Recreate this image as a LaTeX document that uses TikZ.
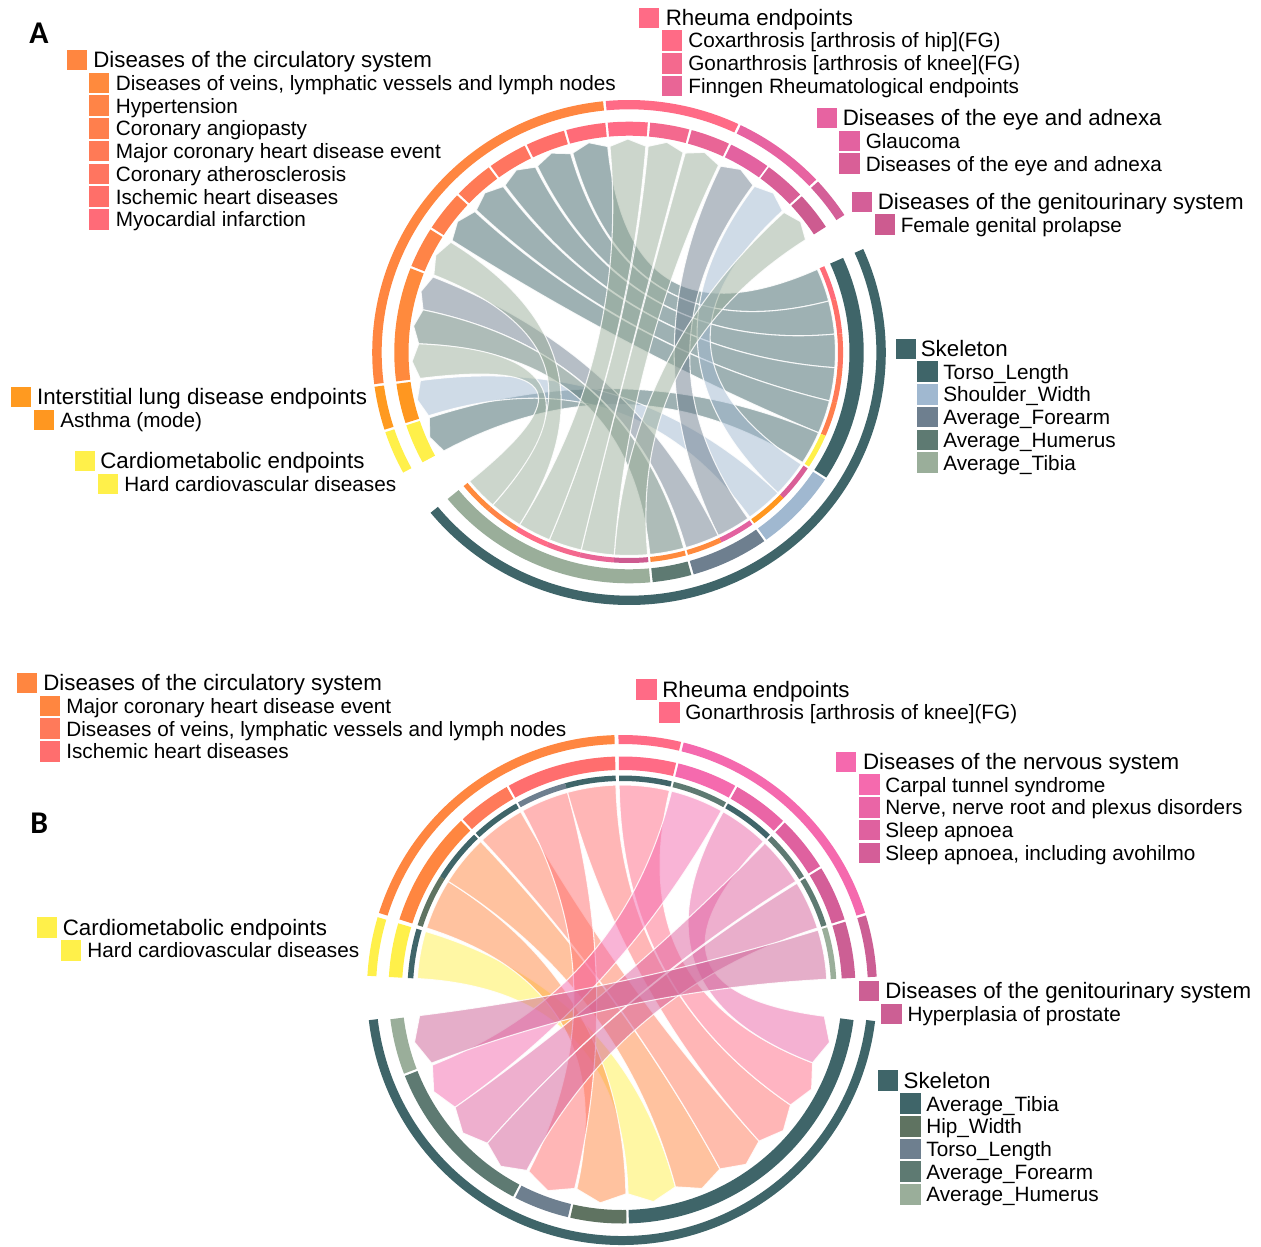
\documentclass[tikz,border=0pt]{standalone}
\usepackage{fontspec}
\setmainfont{Liberation Sans}
\newfontfamily\labfont{Carlito}
\usetikzlibrary{calc}
% ---- colours A
\definecolor{cCirc}{HTML}{FF8640}
\definecolor{cVein}{HTML}{FF8A3D}
\definecolor{cHyp}{HTML}{FF8447}
\definecolor{cAng}{HTML}{FF7F4D}
\definecolor{cMaj}{HTML}{FF7A56}
\definecolor{cAth}{HTML}{FF7560}
\definecolor{cIsc}{HTML}{FF6F69}
\definecolor{cMyo}{HTML}{FF6B78}
\definecolor{cRheu}{HTML}{FF6B86}
\definecolor{cCox}{HTML}{FF6B86}
\definecolor{cGon}{HTML}{F4698E}
\definecolor{cFin}{HTML}{E96596}
\definecolor{cEye}{HTML}{E763A1}
\definecolor{cGla}{HTML}{E362A0}
\definecolor{cEyeS}{HTML}{D95F97}
\definecolor{cGen}{HTML}{D45F98}
\definecolor{cPro}{HTML}{CD5B90}
\definecolor{cIld}{HTML}{FF9A20}
\definecolor{cAst}{HTML}{FF9720}
\definecolor{cCard}{HTML}{FFF04A}
\definecolor{cSkel}{HTML}{3F6569}
\definecolor{cTor}{HTML}{3F6569}
\definecolor{cSho}{HTML}{A0B8D0}
\definecolor{cFor}{HTML}{6E7F8F}
\definecolor{cHum}{HTML}{5E7A72}
\definecolor{cTib}{HTML}{9AAE9A}
% ---- colours B
\definecolor{bMaj}{HTML}{FF8640}
\definecolor{bVein}{HTML}{FF7A5A}
\definecolor{bIsc}{HTML}{FF6E6E}
\definecolor{bGon}{HTML}{FF6B86}
\definecolor{bNerv}{HTML}{F569AE}
\definecolor{bCarp}{HTML}{F56AAE}
\definecolor{bNrv}{HTML}{EA65A6}
\definecolor{bSlA}{HTML}{DF619F}
\definecolor{bSlB}{HTML}{D45E98}
\definecolor{bGen}{HTML}{CC5F94}
\definecolor{bPros}{HTML}{CC5F94}
\definecolor{bTib}{HTML}{3F6569}
\definecolor{bHip}{HTML}{5F7361}
\definecolor{bTor}{HTML}{6E7F8F}
\definecolor{bFor}{HTML}{5E7A72}
\definecolor{bHum}{HTML}{9AAE9A}

\tikzset{
  hd/.style={anchor=base west, inner sep=0pt, font=\fontsize{12.7}{14}\selectfont},
  sb/.style={anchor=base west, inner sep=0pt, font=\fontsize{11.8}{13}\selectfont},
  lbl/.style={anchor=base west, inner sep=0pt, font=\labfont\fontsize{18}{20}\selectfont\bfseries},
  chordfill/.style={fill opacity=0.5, draw=white, draw opacity=0.85, line width=0.6pt, line join=round},
}
\newcommand\ringseg[5]{\fill[#1] (#2:#4) arc[start angle=#2, end angle=#3, radius=#4] -- (#3:#5) arc[start angle=#3, end angle=#2, radius=#5] -- cycle;}
\newcommand\rib[5]{%
  \pgfmathsetmacro\tmid{(#4+#5)/2}%
  \path[chordfill, fill=#1] (#2:\Rs) arc[start angle=#2, end angle=#3, radius=\Rs]
    .. controls (#3:{\Rs/3}) and (#4:{\Rt/3}) .. (#4:\Rt) -- (\tmid:\Rtip) -- (#5:\Rt)
    .. controls (#5:{\Rt/3}) and (#2:{\Rs/3}) .. (#2:\Rs) -- cycle;}
\newcommand\lsq[3]{\filldraw[fill=#1, draw=white, line width=0.3pt] (#2,#3) rectangle ++(21.6,21.6);}

\begin{document}
\begin{tikzpicture}[x=0.02cm,y=-0.02cm]
\fill[white] (0,0) rectangle (1261,1247);
\useasboundingbox (0,0) rectangle (1261,1247);

% ================= Diagram A =================
\begin{scope}[shift={(629,352.5)}, xscale=1.017]
\def\Rs{203}\def\Rt{207}\def\Rtip{213.5}
\rib{cTor}{335.8}{345.3}{254.5}{264.2}
\rib{cTor}{345.3}{354.8}{244.2}{253.9}
\rib{cTor}{354.8}{364.3}{233.9}{243.6}
\rib{cTor}{364.3}{373.8}{223.5}{233.3}
\rib{cTor}{373.8}{383.3}{212.8}{222.9}
\rib{cTor}{383.3}{392.8}{151.6}{161.6}
\rib{cSho}{393.4}{403.8}{306.6}{316.8}
\rib{cSho}{403.8}{414.2}{162.2}{172.2}
\rib{cFor}{414.8}{424.4}{295.8}{306.1}
\rib{cFor}{424.4}{434}{191.9}{201.4}
\rib{cHum}{434.6}{444.2}{182.4}{191.9}
\rib{cTib}{444.8}{454.1}{317.4}{327}
\rib{cTib}{454.1}{463.4}{285.5}{295.2}
\rib{cTib}{463.4}{472.7}{275.2}{284.9}
\rib{cTib}{472.7}{482}{264.8}{274.6}
\rib{cTib}{482}{491.3}{202}{212.2}
\rib{cTib}{491.3}{500.6}{172.8}{182.4}
% outer ring
\ringseg{cCard}{151.6}{161.6}{243.2}{252.5}
\ringseg{cIld}{162.2}{172.2}{243.2}{252.5}
\ringseg{cCirc}{172.8}{264.2}{243.2}{252.5}
\ringseg{cRheu}{264.8}{295.2}{243.2}{252.5}
\ringseg{cEye}{295.8}{316.8}{243.2}{252.5}
\ringseg{cGen}{317.4}{327}{243.2}{252.5}
\ringseg{cSkel}{335.8}{500.6}{243.2}{252.5}
% inner ring
\ringseg{cCard}{151.6}{161.6}{216.8}{230.8}
\ringseg{cAst}{162.2}{172.2}{216.8}{230.8}
\ringseg{cVein}{172.8}{201.4}{216.8}{230.8}
\ringseg{cHyp}{202}{212.2}{216.8}{230.8}
\ringseg{cAng}{212.8}{222.9}{216.8}{230.8}
\ringseg{cMaj}{223.5}{233.3}{216.8}{230.8}
\ringseg{cAth}{233.9}{243.6}{216.8}{230.8}
\ringseg{cIsc}{244.2}{253.9}{216.8}{230.8}
\ringseg{cMyo}{254.5}{264.2}{216.8}{230.8}
\ringseg{cCox}{264.8}{274.6}{216.8}{230.8}
\ringseg{cGon}{275.2}{284.9}{216.8}{230.8}
\ringseg{cFin}{285.5}{295.2}{216.8}{230.8}
\ringseg{cGla}{295.8}{306.1}{216.8}{230.8}
\ringseg{cEyeS}{306.6}{316.8}{216.8}{230.8}
\ringseg{cPro}{317.4}{327}{216.8}{230.8}
\ringseg{cTor}{335.8}{392.8}{216.8}{230.8}
\ringseg{cSho}{393.4}{414.2}{216.8}{230.8}
\ringseg{cFor}{414.8}{434}{216.8}{230.8}
\ringseg{cHum}{434.6}{444.2}{216.8}{230.8}
\ringseg{cTib}{444.8}{500.6}{216.8}{230.8}
% thin ring (skeleton side)
\ringseg{cMyo}{335.8}{345.3}{205.5}{210.5}
\ringseg{cIsc}{345.3}{354.8}{205.5}{210.5}
\ringseg{cAth}{354.8}{364.3}{205.5}{210.5}
\ringseg{cMaj}{364.3}{373.8}{205.5}{210.5}
\ringseg{cAng}{373.8}{383.3}{205.5}{210.5}
\ringseg{cCard}{383.3}{392.8}{205.5}{210.5}
\ringseg{cEyeS}{393.4}{403.8}{205.5}{210.5}
\ringseg{cAst}{403.8}{414.2}{205.5}{210.5}
\ringseg{cGla}{414.8}{424.4}{205.5}{210.5}
\ringseg{cVein}{424.4}{434}{205.5}{210.5}
\ringseg{cVein}{434.6}{444.2}{205.5}{210.5}
\ringseg{cPro}{444.8}{454.1}{205.5}{210.5}
\ringseg{cFin}{454.1}{463.4}{205.5}{210.5}
\ringseg{cGon}{463.4}{472.7}{205.5}{210.5}
\ringseg{cCox}{472.7}{482}{205.5}{210.5}
\ringseg{cHyp}{482}{491.3}{205.5}{210.5}
\ringseg{cVein}{491.3}{500.6}{205.5}{210.5}
\end{scope}

% ================= Diagram B =================
\begin{scope}[shift={(622,990)}]
\def\Rs{205}\def\Rt{204}\def\Rtip{214}
\rib{cCard}{183.2}{196.6}{74.8}{88.3}
\rib{bMaj}{197.6}{212}{88.9}{102.8}
\rib{bMaj}{212}{226.4}{61.3}{74.8}
\rib{bVein}{227}{240.4}{47.8}{61.3}
\rib{bIsc}{241}{254.6}{103.4}{117.2}
\rib{bIsc}{254.6}{268.3}{34.3}{47.8}
\rib{bGon}{269.2}{283.4}{20.9}{34.3}
\rib{bCarp}{284}{299}{144.9}{158.4}
\rib{bNrv}{299.6}{313.6}{7.4}{20.9}
\rib{bSlA}{314.2}{328}{131.3}{144.9}
\rib{bSlB}{328.6}{342.4}{117.8}{131.3}
\rib{bPros}{343}{357}{159}{172.8}
% outer ring
\ringseg{cCard}{183.2}{196.6}{246}{255}
\ringseg{cCirc}{197.6}{268.3}{246}{255}
\ringseg{cRheu}{269.2}{283.4}{246}{255}
\ringseg{bNerv}{284}{342.4}{246}{255}
\ringseg{bGen}{343}{357}{246}{255}
\ringseg{cSkel}{7}{173.2}{246}{255}
% inner ring
\ringseg{cCard}{183.2}{196.6}{220}{233.5}
\ringseg{bMaj}{197.6}{226.4}{220}{233.5}
\ringseg{bVein}{227}{240.4}{220}{233.5}
\ringseg{bIsc}{241}{268.3}{220}{233.5}
\ringseg{bGon}{269.2}{283.4}{220}{233.5}
\ringseg{bCarp}{284}{299}{220}{233.5}
\ringseg{bNrv}{299.6}{313.6}{220}{233.5}
\ringseg{bSlA}{314.2}{328}{220}{233.5}
\ringseg{bSlB}{328.6}{342.4}{220}{233.5}
\ringseg{bPros}{343}{357}{220}{233.5}
\ringseg{bTib}{7.4}{88.3}{220}{233.5}
\ringseg{bHip}{88.9}{102.8}{220}{233.5}
\ringseg{bTor}{103.4}{117.2}{220}{233.5}
\ringseg{bFor}{117.8}{158.4}{220}{233.5}
\ringseg{bHum}{159}{172.8}{220}{233.5}
% thin ring (disease side)
\ringseg{bTib}{183.2}{196.6}{209}{214.5}
\ringseg{bHip}{197.6}{212}{209}{214.5}
\ringseg{bTib}{212}{226.4}{209}{214.5}
\ringseg{bTib}{227}{240.4}{209}{214.5}
\ringseg{bTor}{241}{254.6}{209}{214.5}
\ringseg{bTib}{254.6}{268.3}{209}{214.5}
\ringseg{bTib}{269.2}{283.4}{209}{214.5}
\ringseg{bFor}{284}{299}{209}{214.5}
\ringseg{bTib}{299.6}{313.6}{209}{214.5}
\ringseg{bFor}{314.2}{328}{209}{214.5}
\ringseg{bFor}{328.6}{342.4}{209}{214.5}
\ringseg{bHum}{343}{357}{209}{214.5}
\end{scope}

% ================= Legends A =================
\node[lbl] (labA) at (29,43.5) {A};
\lsq{cCirc}{66}{49}
\node[hd] (a1) at (93,68) {Diseases of the circulatory system};
\lsq{cVein}{88}{72}     \node[sb] (a2) at (115.5,90.5) {Diseases of veins, lymphatic vessels and lymph nodes};
\lsq{cHyp}{88}{94.7}    \node[sb] (a3) at (115.5,113.2) {Hypertension};
\lsq{cAng}{88}{117.4}   \node[sb] (a4) at (115.5,135.9) {Coronary angiopasty};
\lsq{cMaj}{88}{140.1}   \node[sb] (a5) at (115.5,158.6) {Major coronary heart disease event};
\lsq{cAth}{88}{162.8}   \node[sb] (a6) at (115.5,181.3) {Coronary atherosclerosis};
\lsq{cIsc}{88}{185.5}   \node[sb] (a7) at (115.5,204) {Ischemic heart diseases};
\lsq{cMyo}{88}{208.2}   \node[sb] (a8) at (115.5,226.7) {Myocardial infarction};

\lsq{cRheu}{638}{7}
\node[hd] (a9) at (665.4,26) {Rheuma endpoints};
\lsq{cCox}{661}{29.5}   \node[sb] (a10) at (688,48) {Coxarthrosis [arthrosis of hip](FG)};
\lsq{cGon}{661}{52.2}   \node[sb] (a11) at (688,70.7) {Gonarthrosis [arthrosis of knee](FG)};
\lsq{cFin}{661}{74.9}   \node[sb] (a12) at (688,93.4) {Finngen Rheumatological endpoints};

\lsq{cEye}{816}{107}
\node[hd] (a13) at (842.5,125.5) {Diseases of the eye and adnexa};
\lsq{cGla}{838.5}{130}  \node[sb] (a14) at (865.4,148.5) {Glaucoma};
\lsq{cEyeS}{838.5}{152.7} \node[sb] (a15) at (865.4,171.2) {Diseases of the eye and adnexa};

\lsq{cGen}{851}{191}
\node[hd] (a16) at (877.5,209.5) {Diseases of the genitourinary system};
\lsq{cPro}{874}{213.7}  \node[sb] (a17) at (900.4,232.2) {Female genital prolapse};

\lsq{cSkel}{895}{338}
\node[hd] (a18) at (920.5,356.5) {Skeleton};
\lsq{cTor}{916.5}{360.7} \node[sb] (a19) at (943,379.2) {Torso\_Length};
\lsq{cSho}{916.5}{383.4} \node[sb] (a20) at (943,401.9) {Shoulder\_Width};
\lsq{cFor}{916.5}{406.1} \node[sb] (a21) at (943,424.6) {Average\_Forearm};
\lsq{cHum}{916.5}{428.8} \node[sb] (a22) at (943,447.3) {Average\_Humerus};
\lsq{cTib}{916.5}{451.5} \node[sb] (a23) at (943,470) {Average\_Tibia};

\lsq{cIld}{10}{386}
\node[hd] (a24) at (36.7,404.5) {Interstitial lung disease endpoints};
\lsq{cAst}{33}{409}     \node[sb] (a25) at (60,427.5) {Asthma (mode)};

\lsq{cCard}{74}{450}
\node[hd] (a26) at (100,468.5) {Cardiometabolic endpoints};
\lsq{cCard}{97}{473}    \node[sb] (a27) at (124,491.5) {Hard cardiovascular diseases};

% ================= Legends B =================
\node[lbl] (labB) at (30,833.5) {B};
\lsq{cCirc}{16}{672}
\node[hd] (b1) at (43,690.5) {Diseases of the circulatory system};
\lsq{bMaj}{39}{695}     \node[sb] (b2) at (66,713.5) {Major coronary heart disease event};
\lsq{bVein}{39}{717.7}  \node[sb] (b3) at (66,736.2) {Diseases of veins, lymphatic vessels and lymph nodes};
\lsq{bIsc}{39}{740.4}   \node[sb] (b4) at (66,758.9) {Ischemic heart diseases};

\lsq{cRheu}{635.5}{678.5}
\node[hd] (b5) at (662,697) {Rheuma endpoints};
\lsq{bGon}{658.5}{701.2} \node[sb] (b6) at (685,719.7) {Gonarthrosis [arthrosis of knee](FG)};

\lsq{bNerv}{835}{751}
\node[hd] (b7) at (862.7,769.5) {Diseases of the nervous system};
\lsq{bCarp}{858.3}{773.7} \node[sb] (b8) at (885,792.2) {Carpal tunnel syndrome};
\lsq{bNrv}{858.3}{796.4}  \node[sb] (b9) at (885,814.9) {Nerve, nerve root and plexus disorders};
\lsq{bSlA}{858.3}{819.1}  \node[sb] (b10) at (885,837.6) {Sleep apnoea};
\lsq{bSlB}{858.3}{841.8}  \node[sb] (b11) at (885,860.3) {Sleep apnoea, including avohilmo};

\lsq{bGen}{858}{980}
\node[hd] (b12) at (885,998.5) {Diseases of the genitourinary system};
\lsq{bPros}{880.7}{1003} \node[sb] (b13) at (907.3,1021.5) {Hyperplasia of prostate};

\lsq{cSkel}{877}{1069.5}
\node[hd] (b14) at (903.3,1088) {Skeleton};
\lsq{bTib}{899.5}{1092.5} \node[sb] (b15) at (926,1111) {Average\_Tibia};
\lsq{bHip}{899.5}{1115.2} \node[sb] (b16) at (926,1133.7) {Hip\_Width};
\lsq{bTor}{899.5}{1137.9} \node[sb] (b17) at (926,1156.4) {Torso\_Length};
\lsq{bFor}{899.5}{1160.6} \node[sb] (b18) at (926,1179.1) {Average\_Forearm};
\lsq{bHum}{899.5}{1183.3} \node[sb] (b19) at (926,1201.8) {Average\_Humerus};

\lsq{cCard}{36}{916.5}
\node[hd] (b20) at (62.5,935) {Cardiometabolic endpoints};
\lsq{cCard}{60}{939.2}  \node[sb] (b21) at (87,957.7) {Hard cardiovascular diseases};
\end{tikzpicture}
\end{document}
